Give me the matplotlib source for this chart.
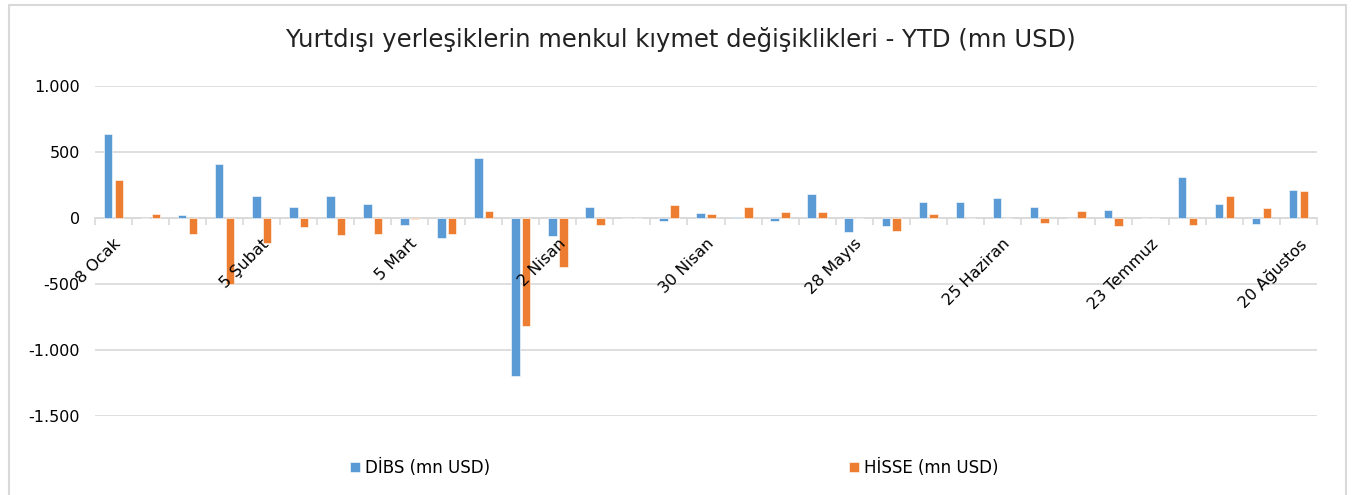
import numpy as np
import matplotlib.pyplot as plt
from matplotlib.patches import Rectangle
from matplotlib.ticker import FuncFormatter

weeks = ['8 Ocak', '15 Ocak', '22 Ocak', '29 Ocak', '5 Şubat', '12 Şubat', '19 Şubat', '26 Şubat',
         '5 Mart', '12 Mart', '19 Mart', '26 Mart', '2 Nisan', '9 Nisan', '16 Nisan', '23 Nisan',
         '30 Nisan', '7 Mayıs', '14 Mayıs', '21 Mayıs', '28 Mayıs', '4 Haziran', '11 Haziran', '18 Haziran',
         '25 Haziran', '2 Temmuz', '9 Temmuz', '16 Temmuz', '23 Temmuz', '30 Temmuz', '6 Ağustos',
         '13 Ağustos', '20 Ağustos']
dibs = [634, 0, 23, 412, 167, 81, 167, 104, -50, -152, 457, -1197, -134, 83, 0, -20,
        38, 10, -20, 182, -104, -58, 121, 121, 152, 83, 0, 58, 0, 308, 104, -48, 210]
hisse = [288, 30, -121, -497, -187, -66, -126, -121, -5, -121, 56, -818, -369, -50, 0, 101,
         30, 83, 48, 48, 3, -96, 30, 3, 3, -40, 51, -63, 0, -56, 164, 76, 202]

blue = '#5B9BD5'
orange = '#ED7D31'
grid_c = '#D9D9D9'

fig = plt.figure(figsize=(13.62, 4.95), dpi=100)
fig.add_artist(Rectangle((8.5 / 1362, -0.05), (1346 - 8.5) / 1362, 1.05 - 4.5 / 495,
                         transform=fig.transFigure, fill=False, edgecolor=grid_c, linewidth=1.5))
ax = fig.add_axes([95 / 1362, 1 - 416 / 495, (1317 - 95) / 1362, (416 - 86) / 495])

x = np.arange(len(weeks))
ax.bar(x - 0.145, dibs, width=0.23, color=blue, edgecolor='white', linewidth=0.4, zorder=2, label='DİBS (mn USD)')
ax.bar(x + 0.145, hisse, width=0.23, color=orange, edgecolor='white', linewidth=0.4, zorder=2, label='HİSSE (mn USD)')

ax.set_xlim(-0.5, len(weeks) - 0.5)
ax.set_ylim(-1500, 1000)
ax.set_yticks([-1500, -1000, -500, 0, 500, 1000])
ax.yaxis.set_major_formatter(FuncFormatter(lambda v, p: f'{int(v):,}'.replace(',', '.')))
ax.grid(axis='y', color=grid_c, linewidth=1.2)
ax.yaxis.set_zorder(0.5)
ax.xaxis.set_zorder(5)
for s in ['top', 'right', 'left']:
    ax.spines[s].set_visible(False)
ax.spines['bottom'].set_position(('data', 0))
ax.spines['bottom'].set_color(grid_c)
ax.spines['bottom'].set_linewidth(1.2)
ax.spines['bottom'].set_zorder(1)

ax.set_xticks(x[::4])
ax.set_xticklabels(weeks[::4], rotation=45, ha='right', va='top', rotation_mode='anchor', fontsize=11.5)
ax.set_xticks(np.arange(-0.5, len(weeks), 1), minor=True)
ax.tick_params(axis='x', which='major', length=0, pad=13)
ax.tick_params(axis='x', which='minor', length=5, color=grid_c, width=1.2)
ax.tick_params(axis='y', length=0, labelsize=11.5, pad=11)

fig.text(0.5, 1 - 40 / 495, 'Yurtdışı yerleşiklerin menkul kıymet değişiklikleri - YTD (mn USD)',
         ha='center', va='center', fontsize=17.5, color='#222222')

fig.legend(loc='center', bbox_to_anchor=(0.495, 1 - 468 / 495), ncol=2, frameon=False, fontsize=12,
           handlelength=0.6, handleheight=0.6, handletextpad=0.3, columnspacing=21.5)

plt.savefig('out.png', dpi=100)
